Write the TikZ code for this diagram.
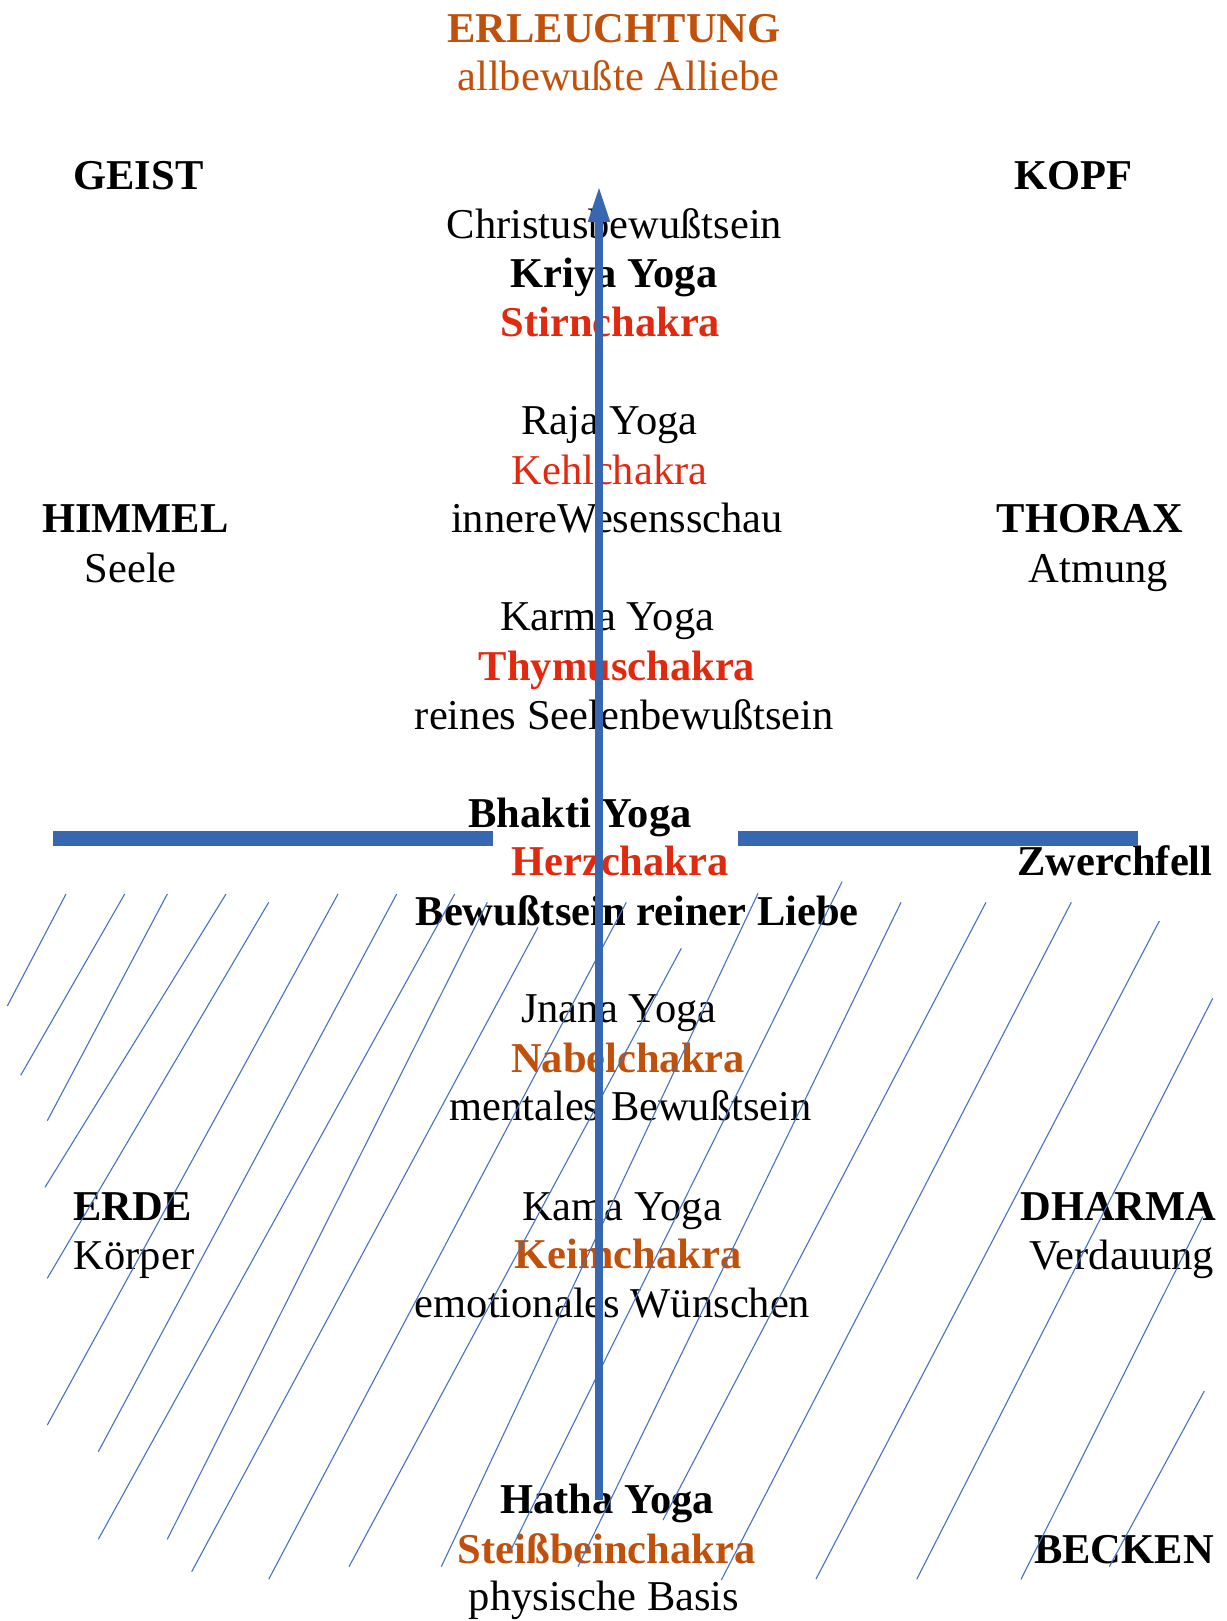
\documentclass[tikz,border=0pt]{standalone}
\usepackage{fontspec}
\setmainfont{Liberation Serif}
\usetikzlibrary{arrows.meta}
\definecolor{brn}{HTML}{C0500A}
\definecolor{rd}{HTML}{E1290F}
\definecolor{barblue}{HTML}{3767B1}
\definecolor{hatchblue}{HTML}{4472C4}
\begin{document}
\begin{tikzpicture}[x=0.5pt,y=-0.5pt,
  lbl/.style={anchor=base,inner sep=0pt,font=\fontsize{21.25pt}{25pt}\selectfont},
  hd/.style={anchor=base,inner sep=0pt,font=\fontsize{21.25pt}{25pt}\selectfont\bfseries},
  hatchline/.style={draw=hatchblue,line width=0.55pt},
  diaphragm/.style={draw=barblue,line width=7.5pt},
  riser/.style={draw=barblue,line width=3.8pt,-{Triangle[width=10pt,length=18pt]}}]
\useasboundingbox (0,0) rectangle (1226,1621);

% top
\node[hd,text=brn] (erl) at (614,42.5) {ERLEUCHTUNG};
\node[lbl,text=brn] (allb) at (618.5,91) {allbewußte Alliebe};

% side labels
\node[hd] (geist) at (138.5,189.5) {GEIST};
\node[hd] (kopf) at (1073.5,189.5) {KOPF};
\node[hd] (himmel) at (135.4,532.7) {HIMMEL};
\node[lbl] (seele) at (130.8,582.3) {Seele};
\node[hd] (thorax) at (1090,532.7) {THORAX};
\node[lbl] (atmung) at (1098.3,582.3) {Atmung};
\node[hd] (zwerch) at (1115,875.8) {Zwerchfell};
\node[hd] (erde) at (132.5,1220.8) {ERDE};
\node[lbl] (koerper) at (134,1269.8) {Körper};
\node[hd] (dharma) at (1118.5,1220.8) {DHARMA};
\node[lbl] (verd) at (1122,1269.8) {Verdauung};
\node[hd] (becken) at (1124,1563.8) {BECKEN};

% centre column
\node[lbl] (christ) at (614.5,238.1) {Christusbewußtsein};
\node[hd] (kriya) at (614,287.7) {Kriya Yoga};
\node[hd,text=rd] (stirn) at (610.4,336.3) {Stirnchakra};

\node[lbl] (raja) at (609.4,434.5) {Raja Yoga};
\node[lbl,text=rd] (kehl) at (609.4,484.1) {Kehlchakra};
\node[lbl] (innere) at (617,532.7) {innereWesensschau};

\node[lbl] (karma) at (607.3,630.9) {Karma Yoga};
\node[hd,text=rd] (thymus) at (617.1,680.5) {Thymuschakra};
\node[lbl] (reines) at (624.4,729.1) {reines Seelenbewußtsein};

\node[hd] (bhakti) at (580,827.3) {Bhakti Yoga};
\node[hd,text=rd] (herz) at (620,875.8) {Herzchakra};
\node[hd] (liebe) at (637.3,925.5) {Bewußtsein reiner Liebe};

\node[lbl] (jnana) at (618.8,1022.5) {Jnana Yoga};
\node[hd,text=brn] (nabel) at (628,1072.5) {Nabelchakra};
\node[lbl] (mental) at (630.5,1120.8) {mentales Bewußtsein};

\node[lbl] (kama) at (622,1220.8) {Kama Yoga};
\node[hd,text=brn] (keim) at (628,1268.8) {Keimchakra};
\node[lbl] (emot) at (612.5,1317.8) {emotionales Wünschen};

\node[hd] (hatha) at (607,1513.5) {Hatha Yoga};
\node[hd,text=brn] (steiss) at (606.7,1563.5) {Steißbeinchakra};
\node[lbl] (phys) at (604,1610.8) {physische Basis};

% hatching
\foreach \xa/\ya/\xb/\yb in {
  66/894/7.3/1006, 124.7/894/20.7/1075.3, 167.3/894/47.3/1120.7,
  226/894/45/1187.3, 268.7/902.3/47.3/1278.3, 338/894/47.3/1425,
  396.7/894/98.3/1451.7, 454.7/894/98.3/1539.3, 487.3/902.3/167.3/1539.3,
  538/927.3/191.7/1571.7, 626.3/902.3/268.7/1579.3, 681.3/948.3/349/1566.7,
  758/893.3/441.3/1566.7, 842/881.7/510/1551.7, 901/902.3/578/1566.7,
  986/902.3/663/1520, 1071.3/902.3/721.3/1580, 1159.3/921/816/1579,
  1212.7/998.3/916.7/1579.3, 1202.7/1216.7/1021/1579.3, 1204.3/1391/1109.3/1566.7}
  \draw[hatchline] (\xa,\ya) -- (\xb,\yb);

% diaphragm bars
\coordinate (barLa) at (53,838);
\coordinate (barLb) at (492.5,838);
\coordinate (barRa) at (738,838);
\coordinate (barRb) at (1137.7,838);
\draw[diaphragm] (barLa) -- (barLb);
\draw[diaphragm] (barRa) -- (barRb);

% vertical arrow
\coordinate (base) at (599,1500);
\coordinate (apex) at (599,186);
\draw[riser] (base) -- (apex);
\end{tikzpicture}
\end{document}
